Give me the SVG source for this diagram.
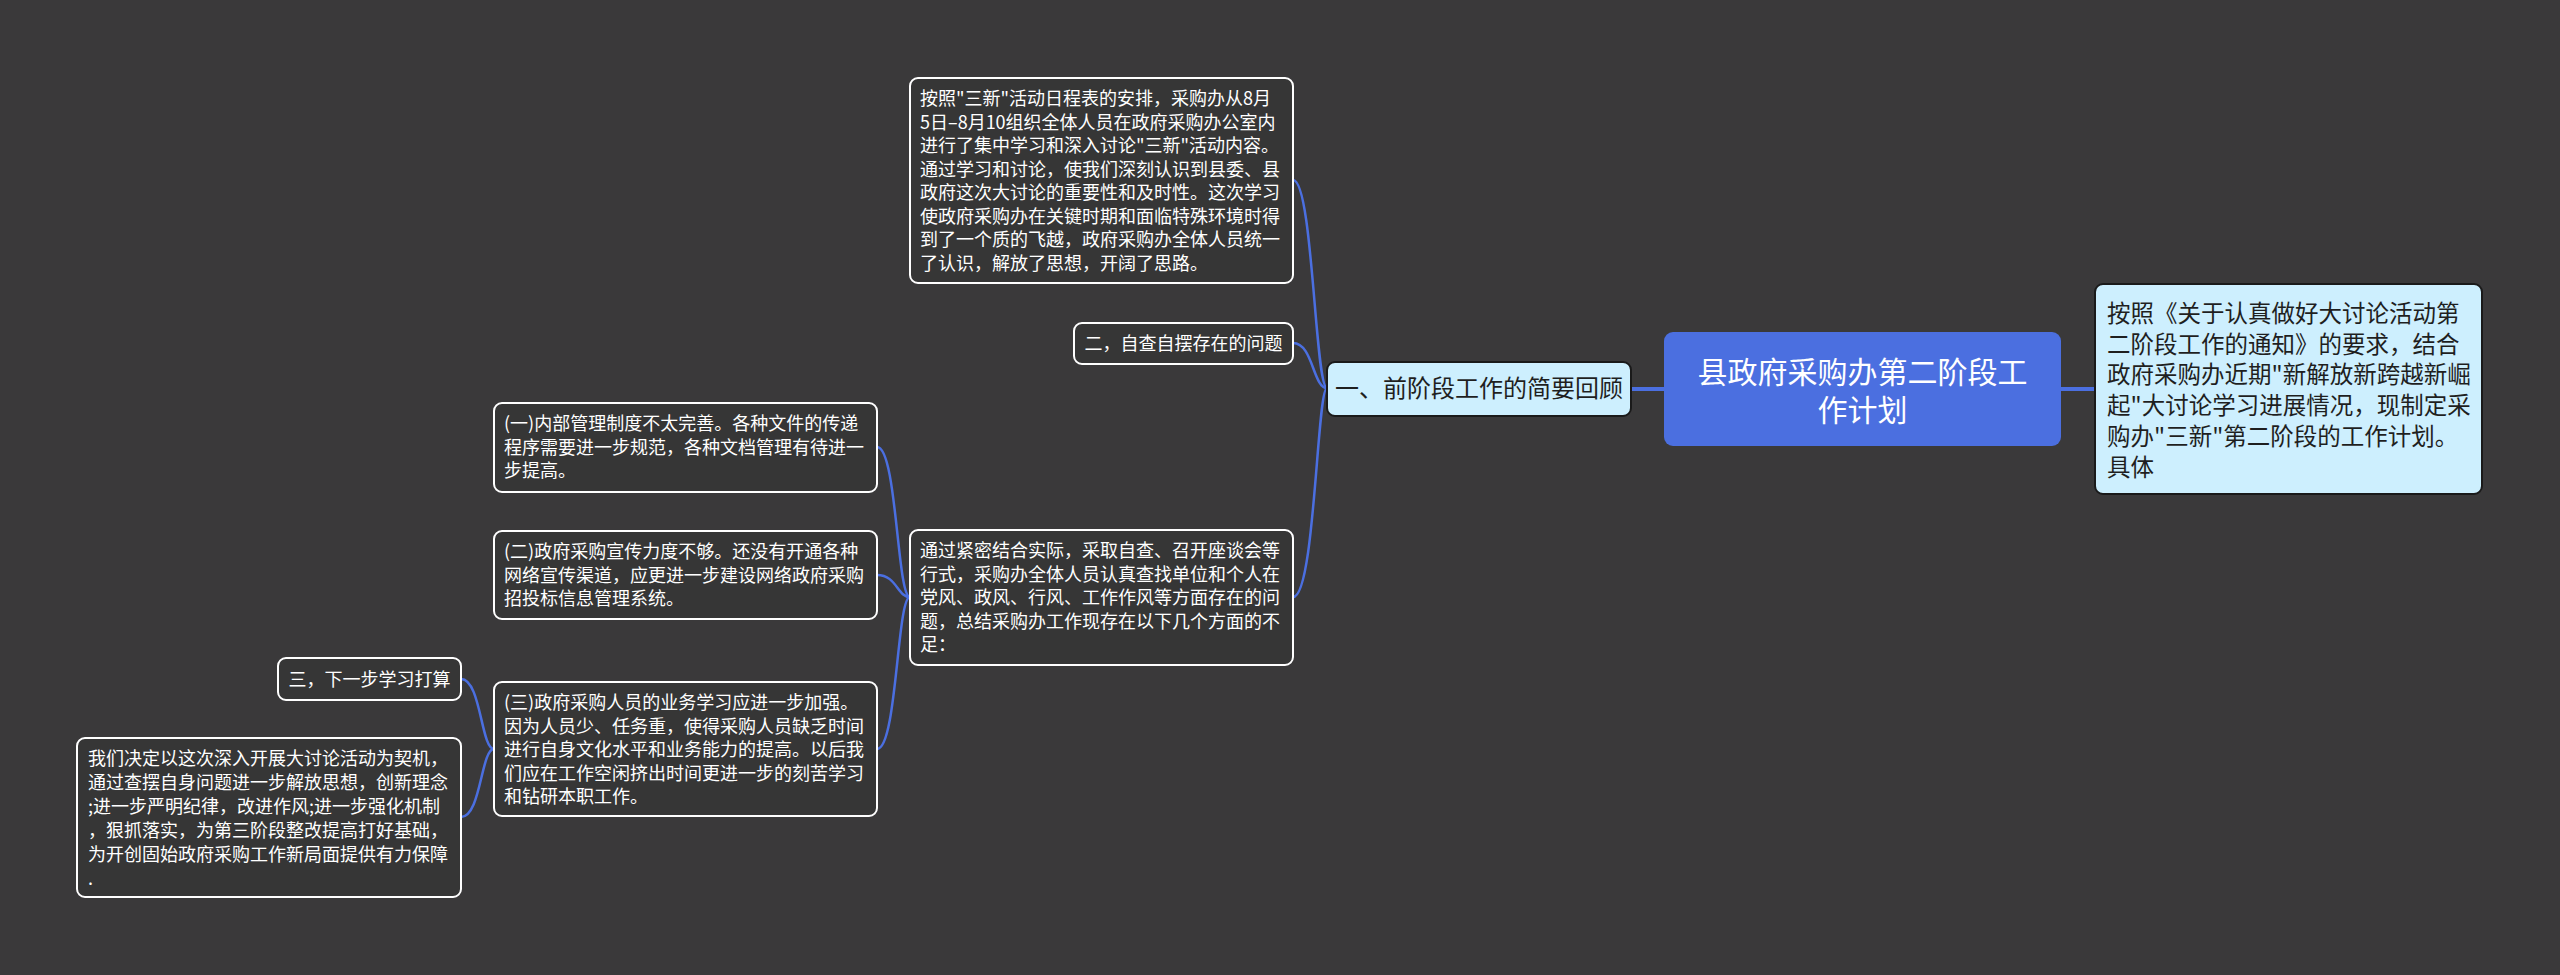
<svg xmlns="http://www.w3.org/2000/svg" width="2560" height="975" viewBox="0 0 2560 975">
<style>
.bg{fill:#3a393a}
.dark{fill:#363636;stroke:#ffffff;stroke-width:2}
.light{fill:#cdeffe;stroke:#1a1a1a;stroke-width:2}
.root{fill:#4b6fe0}
.t{font-family:"Noto Sans CJK SC","Noto Sans",sans-serif;font-size:18px;fill:#ffffff}
.tl{font-family:"Noto Sans CJK SC","Noto Sans",sans-serif;fill:#1f1f1f}
.tr{font-family:"Noto Sans CJK SC","Noto Sans",sans-serif;font-size:30px;fill:#ffffff;text-anchor:middle}
.c{fill:none;stroke:#4b6fe0;stroke-width:2.5}
.ct{fill:none;stroke:#4b6fe0;stroke-width:4}
</style>
<rect class="bg" x="0" y="0" width="2560" height="975"/>
<g id="connectors">
<path class="ct" d="M1631,389 L1664,389"/>
<path class="ct" d="M2061,389 L2095,389"/>
<path class="c" d="M1293,180 C1313,180 1315,388 1327,388"/>
<path class="c" d="M1293,343 C1313,343 1313,388 1327,388"/>
<path class="c" d="M1293,597 C1315,597 1317,388 1327,388"/>
<path class="c" d="M877,447 C897,447 897,597 910,597"/>
<path class="c" d="M877,575 C897,575 897,597 910,597"/>
<path class="c" d="M877,749 C897,749 897,597 910,597"/>
<path class="c" d="M461,679 C481,679 481,749 494,749"/>
<path class="c" d="M461,817 C481,817 481,749 494,749"/>
</g>
<g id="root">
<rect class="root" x="1664" y="332" width="397" height="114" rx="9"/>
<text class="tr"><tspan x="1862.5" y="383.4">县政府采购办第二阶段工</tspan><tspan x="1862.5" y="421.4">作计划</tspan></text>
</g>
<g id="intro">
<rect class="light" x="2095" y="284" width="387" height="210" rx="8"/>
<text class="tl" font-size="23.5"><tspan x="2107" y="322">按照《关于认真做好大讨论活动第</tspan><tspan x="2107" y="352.7">二阶段工作的通知》的要求，结合</tspan><tspan x="2107" y="383.4">政府采购办近期"新解放新跨越新崛</tspan><tspan x="2107" y="414.1">起"大讨论学习进展情况，现制定采</tspan><tspan x="2107" y="444.8">购办"三新"第二阶段的工作计划。</tspan><tspan x="2107" y="475.5">具体</tspan></text>
</g>
<g id="review">
<rect class="light" x="1327" y="362" width="304" height="54" rx="8"/>
<text class="tl" font-size="24" text-anchor="middle" x="1479" y="397">一、前阶段工作的简要回顾</text>
</g>
<g id="study">
<rect class="dark" x="910" y="78" width="383" height="205" rx="8"/>
<text class="t"><tspan x="920" y="105.3">按照"三新"活动日程表的安排，采购办从8月</tspan><tspan x="920" y="128.8">5日–8月10组织全体人员在政府采购办公室内</tspan><tspan x="920" y="152.3">进行了集中学习和深入讨论"三新"活动内容。</tspan><tspan x="920" y="175.8">通过学习和讨论，使我们深刻认识到县委、县</tspan><tspan x="920" y="199.3">政府这次大讨论的重要性和及时性。这次学习</tspan><tspan x="920" y="222.8">使政府采购办在关键时期和面临特殊环境时得</tspan><tspan x="920" y="246.3">到了一个质的飞越，政府采购办全体人员统一</tspan><tspan x="920" y="269.8">了认识，解放了思想，开阔了思路。</tspan></text>
</g>
<g id="selfcheck">
<rect class="dark" x="1074" y="323" width="219" height="41" rx="8"/>
<text class="t" text-anchor="middle" x="1183.5" y="349.5">二，自查自摆存在的问题</text>
</g>
<g id="summary">
<rect class="dark" x="910" y="530" width="383" height="135" rx="8"/>
<text class="t"><tspan x="920" y="557.3">通过紧密结合实际，采取自查、召开座谈会等</tspan><tspan x="920" y="580.8">行式，采购办全体人员认真查找单位和个人在</tspan><tspan x="920" y="604.3">党风、政风、行风、工作作风等方面存在的问</tspan><tspan x="920" y="627.8">题，总结采购办工作现存在以下几个方面的不</tspan><tspan x="920" y="651.3">足：</tspan></text>
</g>
<g id="issue1">
<rect class="dark" x="494" y="403" width="383" height="89" rx="8"/>
<text class="t"><tspan x="504" y="430.3">(一)内部管理制度不太完善。各种文件的传递</tspan><tspan x="504" y="453.8">程序需要进一步规范，各种文档管理有待进一</tspan><tspan x="504" y="477.3">步提高。</tspan></text>
</g>
<g id="issue2">
<rect class="dark" x="494" y="531" width="383" height="88" rx="8"/>
<text class="t"><tspan x="504" y="558.3">(二)政府采购宣传力度不够。还没有开通各种</tspan><tspan x="504" y="581.8">网络宣传渠道，应更进一步建设网络政府采购</tspan><tspan x="504" y="605.3">招投标信息管理系统。</tspan></text>
</g>
<g id="issue3">
<rect class="dark" x="494" y="682" width="383" height="134" rx="8"/>
<text class="t"><tspan x="504" y="709.3">(三)政府采购人员的业务学习应进一步加强。</tspan><tspan x="504" y="732.8">因为人员少、任务重，使得采购人员缺乏时间</tspan><tspan x="504" y="756.3">进行自身文化水平和业务能力的提高。以后我</tspan><tspan x="504" y="779.8">们应在工作空闲挤出时间更进一步的刻苦学习</tspan><tspan x="504" y="803.3">和钻研本职工作。</tspan></text>
</g>
<g id="nextplan">
<rect class="dark" x="278" y="658" width="183" height="42" rx="8"/>
<text class="t" text-anchor="middle" x="369.5" y="685.5">三，下一步学习打算</text>
</g>
<g id="decision">
<rect class="dark" x="77" y="738" width="384" height="159" rx="8"/>
<text class="t"><tspan x="88" y="764.5">我们决定以这次深入开展大讨论活动为契机，</tspan><tspan x="88" y="788.5">通过查摆自身问题进一步解放思想，创新理念</tspan><tspan x="88" y="812.5">;进一步严明纪律，改进作风;进一步强化机制</tspan><tspan x="88" y="836.5">，狠抓落实，为第三阶段整改提高打好基础，</tspan><tspan x="88" y="860.5">为开创固始政府采购工作新局面提供有力保障</tspan><tspan x="88" y="884.5">.</tspan></text>
</g>
</svg>
